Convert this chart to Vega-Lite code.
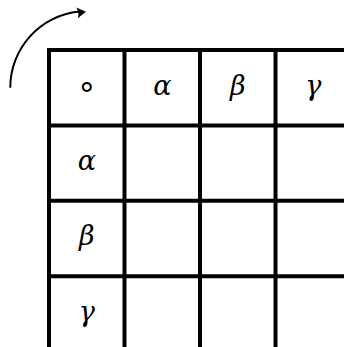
{
  "$schema": "https://vega.github.io/schema/vega-lite/v6.json",
  "width": 344,
  "height": 347,
  "autosize": {"type": "fit", "contains": "padding"},
  "padding": 0,
  "background": "white",
  "config": {"view": {"stroke": null}},
  "datasets": {
    "vlines": [
      {"u": 0, "v0": 0, "v1": 4.2},
      {"u": 1, "v0": 0, "v1": 4.2},
      {"u": 2, "v0": 0, "v1": 4.2},
      {"u": 3, "v0": 0, "v1": 4.2}
    ],
    "hlines": [
      {"v": 0, "u0": 0, "u1": 4.2},
      {"v": 1, "u0": 0, "u1": 4.2},
      {"v": 2, "u0": 0, "u1": 4.2},
      {"v": 3, "u0": 0, "u1": 4.2}
    ],
    "op": [
      {"u": 0.5, "v": 0.5, "t": "∘"}
    ],
    "labels": [
      {"u": 1.5, "v": 0.5, "t": "α"},
      {"u": 2.5, "v": 0.5, "t": "β"},
      {"u": 3.5, "v": 0.5, "t": "γ"},
      {"u": 0.5, "v": 1.5, "t": "α"},
      {"u": 0.5, "v": 2.5, "t": "β"},
      {"u": 0.5, "v": 3.5, "t": "γ"}
    ],
    "arc": [{"u": 0.5, "v": 0.5, "t0": -1.5708, "t1": -0.1}],
    "head": [{"u": 0.43, "v": -0.5}]
  },
  "layer": [
    {
      "data": {"name": "vlines"},
      "mark": {"type": "rule", "stroke": "black", "strokeWidth": 4, "strokeCap": "square", "clip": true},
      "encoding": {
        "x": {"field": "u", "type": "quantitative", "scale": {"domain": [-0.649, 3.907], "nice": false, "zero": false}, "axis": null},
        "y": {"field": "v0", "type": "quantitative", "scale": {"domain": [-0.663, 3.939], "nice": false, "zero": false, "reverse": true}, "axis": null},
        "y2": {"field": "v1"}
      }
    },
    {
      "data": {"name": "hlines"},
      "mark": {"type": "rule", "stroke": "black", "strokeWidth": 4, "strokeCap": "square", "clip": true},
      "encoding": {
        "y": {"field": "v", "type": "quantitative"},
        "x": {"field": "u0", "type": "quantitative"},
        "x2": {"field": "u1"}
      }
    },
    {
      "data": {"name": "labels"},
      "mark": {"type": "text", "font": "DejaVu Serif", "fontStyle": "italic", "fontSize": 27, "color": "black", "align": "center", "baseline": "middle", "dy": -1},
      "encoding": {
        "x": {"field": "u", "type": "quantitative"},
        "y": {"field": "v", "type": "quantitative"},
        "text": {"field": "t"}
      }
    },
    {
      "data": {"name": "op"},
      "mark": {"type": "text", "font": "DejaVu Sans", "fontSize": 32, "color": "black", "align": "center", "baseline": "middle", "dy": -1},
      "encoding": {
        "x": {"field": "u", "type": "quantitative"},
        "y": {"field": "v", "type": "quantitative"},
        "text": {"field": "t"}
      }
    },
    {
      "data": {"name": "arc"},
      "mark": {"type": "arc", "radius": 77.5, "radius2": 75.5, "fill": "black"},
      "encoding": {
        "x": {"field": "u", "type": "quantitative"},
        "y": {"field": "v", "type": "quantitative"},
        "theta": {"field": "t0", "type": "quantitative", "scale": null, "stack": false},
        "theta2": {"field": "t1"}
      }
    },
    {
      "data": {"name": "head"},
      "mark": {"type": "point", "shape": "M1,0 L-1,-1.2 Q-0.4,0 -1,1.2 Z", "size": 81, "filled": true, "fill": "black", "stroke": null, "opacity": 1, "angle": -8},
      "encoding": {
        "x": {"field": "u", "type": "quantitative"},
        "y": {"field": "v", "type": "quantitative"}
      }
    }
  ]
}
